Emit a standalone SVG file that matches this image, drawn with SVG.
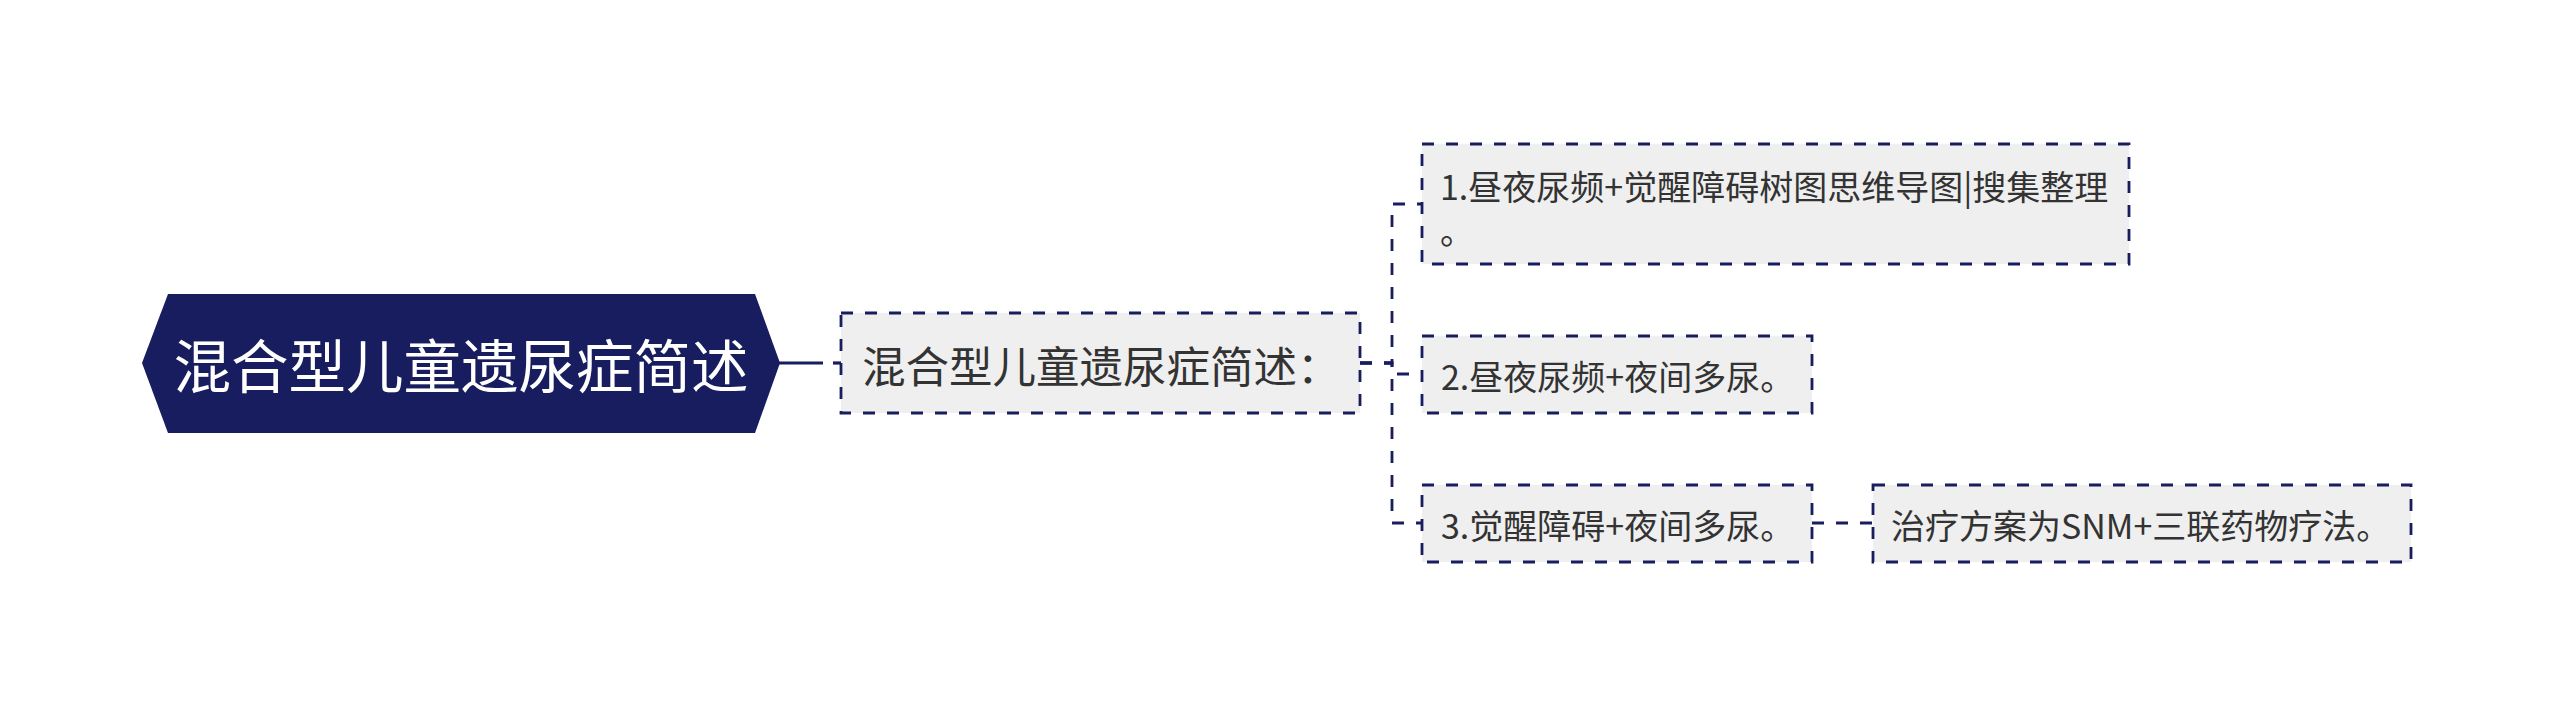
<svg xmlns="http://www.w3.org/2000/svg" width="2560" height="707" viewBox="0 0 2560 707">
<style>
.box{fill:#efefef;stroke:#171d5e;stroke-width:2.8;stroke-dasharray:12 12}
.conn{fill:none;stroke:#171d5e;stroke-width:2.8;stroke-dasharray:12 12}
.solid{fill:none;stroke:#171d5e;stroke-width:3.2}
.t{font-family:"Noto Sans CJK SC","Noto Sans",sans-serif;fill:#333333;dominant-baseline:central}
.leaf{font-size:34px}
</style>
<rect x="0" y="0" width="2560" height="707" fill="#ffffff"/>
<g id="connectors">
<line class="solid" x1="778" y1="363" x2="823" y2="363"/>
<line class="solid" x1="833" y1="363" x2="841" y2="363"/>
<path class="conn" d="M1360,363 H1392 V204 H1422"/>
<path class="conn" d="M1360,363 H1392 V374 H1422"/>
<path class="conn" d="M1360,363 H1392 V523 H1422"/>
<path class="conn" d="M1812,523 H1873"/>
</g>
<g id="root">
<polygon points="142,363 168,294 755,294 780,363 755,433 168,433" fill="#171d5e"/>
<text class="t" x="461" y="363" font-size="57.5" text-anchor="middle" style="fill:#ffffff">混合型儿童遗尿症简述</text>
</g>
<g id="node-summary">
<rect class="box" x="841" y="313" width="519" height="100"/>
<text class="t" x="862" y="364" font-size="43.5">混合型儿童遗尿症简述：</text>
</g>
<g id="node-1">
<rect class="box" x="1422" y="144" width="707" height="120"/>
<text class="t leaf" x="1440" y="185">1.昼夜尿频+觉醒障碍树图思维导图|搜集整理</text>
<text class="t leaf" x="1440" y="229">。</text>
</g>
<g id="node-2">
<rect class="box" x="1422" y="336" width="390" height="77"/>
<text class="t leaf" x="1441" y="375">2.昼夜尿频+夜间多尿。</text>
</g>
<g id="node-3">
<rect class="box" x="1422" y="485" width="390" height="77"/>
<text class="t leaf" x="1441" y="524">3.觉醒障碍+夜间多尿。</text>
</g>
<g id="node-4">
<rect class="box" x="1873" y="485" width="538" height="77"/>
<text class="t leaf" x="1891" y="524">治疗方案为SNM+三联药物疗法。</text>
</g>
</svg>
